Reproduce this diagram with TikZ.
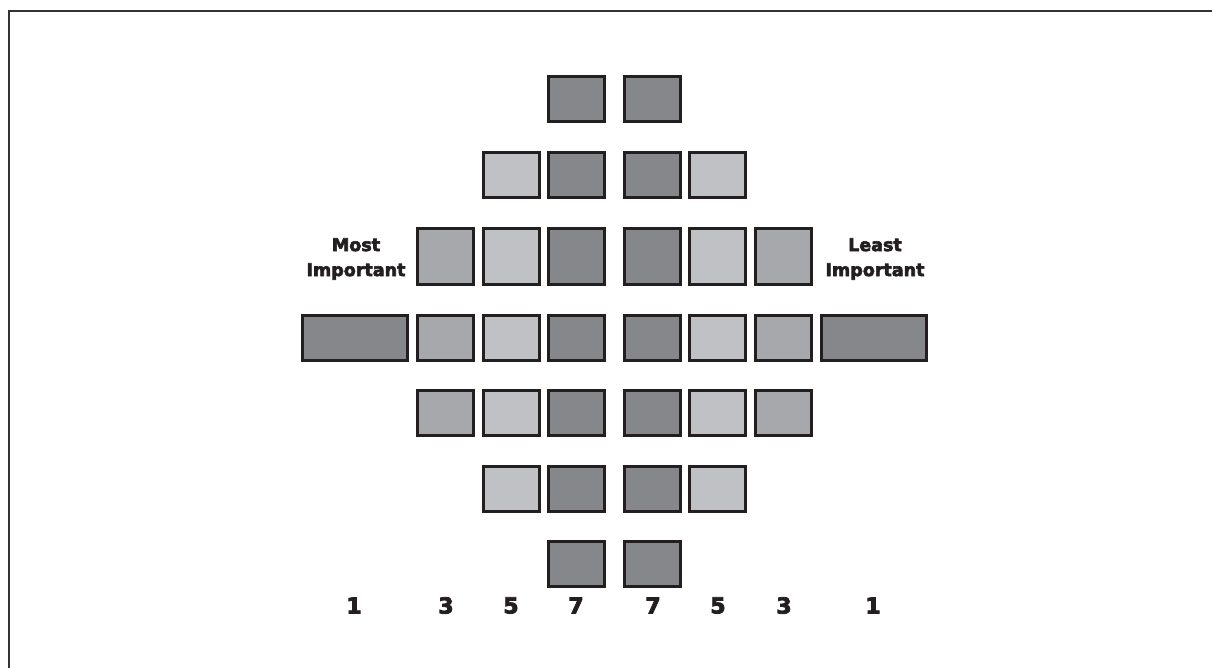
\documentclass[tikz,border=0pt]{standalone}
\usepackage{fontspec}
\setmainfont{DejaVu Sans}
\newfontfamily\heavyfont{DejaVu Sans Bold}[FakeBold=3.5]
\definecolor{cellDark}{HTML}{86878A}
\definecolor{cellMid}{HTML}{A7A8AB}
\definecolor{cellLight}{HTML}{C0C1C4}
\definecolor{cellEdge}{HTML}{231F20}

\begin{document}
\begin{tikzpicture}[x=1pt,y=-1pt]
    \tikzset{
        cell/.style={
            draw=cellEdge,line width=3pt,inner sep=0pt,
            minimum width=56pt,minimum height=45pt
        },
        darkcell/.style={cell,fill=cellDark},
        midcell/.style={cell,fill=cellMid},
        lightcell/.style={cell,fill=cellLight},
        widecell/.style={darkcell,minimum width=105pt},
        sidetext/.style={font=\heavyfont\fontsize{17.5}{25}\selectfont,align=center,text=cellEdge},
        rank/.style={font=\heavyfont\fontsize{22}{24}\selectfont,text=cellEdge}
    }
    \useasboundingbox (0,0) rectangle (1212,668);
    \draw[black!80,line width=2.5pt] (9,668) -- (9,11) -- (1212,11);

    % top and bottom rows
    \foreach \y/\n in {99.5/1,563.5/7} {
        \node[darkcell] (r\n-l7) at (576,\y) {};
        \node[darkcell] (r\n-r7) at (652.5,\y) {};
    }

    % second rows
    \foreach \y/\n in {175/2,488.5/6} {
        \node[lightcell] (r\n-l5) at (511,\y) {};
        \node[darkcell]  (r\n-l7) at (576,\y) {};
        \node[darkcell]  (r\n-r7) at (652.5,\y) {};
        \node[lightcell] (r\n-r5) at (717,\y) {};
    }

    % third rows
    \foreach \y/\n/\h in {256.5/3/56pt,337.5/4/45pt,413/5/45pt} {
        \node[midcell,minimum height=\h]   (r\n-l3) at (445.5,\y) {};
        \node[lightcell,minimum height=\h] (r\n-l5) at (511,\y) {};
        \node[darkcell,minimum height=\h]  (r\n-l7) at (576,\y) {};
        \node[darkcell,minimum height=\h]  (r\n-r7) at (652.5,\y) {};
        \node[lightcell,minimum height=\h] (r\n-r5) at (717,\y) {};
        \node[midcell,minimum height=\h]   (r\n-r3) at (783,\y) {};
    }

    % middle row ends
    \node[widecell] (r4-l1) at (355,337.5) {};
    \node[widecell] (r4-r1) at (873.5,337.5) {};

    \node[sidetext] (most) at (356,259) {Most\\Important};
    \node[sidetext] (least) at (875,259) {Least\\Important};

    \foreach \x/\v [count=\i] in {354/1,446/3,511/5,576/7,653/7,718/5,784/3,873/1}
        \node[rank] (num\i) at (\x,605.5) {\v};
\end{tikzpicture}
\end{document}
